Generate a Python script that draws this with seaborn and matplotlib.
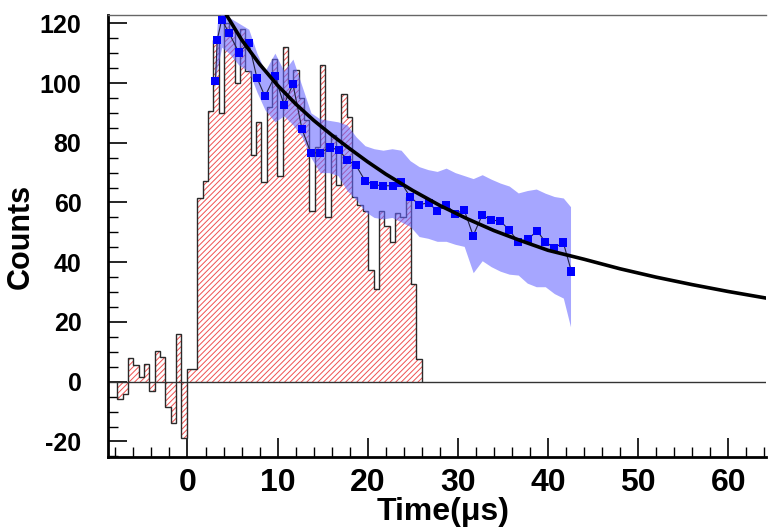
import numpy as np
import pandas as pd
import matplotlib
matplotlib.use("Agg")
import matplotlib.pyplot as plt
import seaborn as sns
from matplotlib.ticker import MultipleLocator

# ---------------- data ----------------
hist_start = -7.8
hist_width = 0.5925
hist_counts = [-5.8, -4.0, 7.8, 5.7, 1.6, 5.9, -3.0, 10.4, 8.3, -8.4,
               -13.7, 15.9, -18.8, 4.2, 4.2, 61.4, 67.2, 90.5, 114.5, 90.1,
               120, 118, 100, 118, 104, 76, 87, 67, 92, 108,
               69, 112, 100, 104.4, 94.9, 87.7, 57, 78.7, 106.1, 55.3,
               82.6, 65.9, 96.3, 88.5, 62, 59, 57, 37.4, 31, 57,
               52, 46.9, 56.4, 55, 62, 32.7, 7.5]

pt_x = [3.1, 3.3, 3.8, 4.6, 5.7, 6.8, 7.7, 8.6, 9.7, 10.7, 11.7, 12.7,
        13.7, 14.7, 15.8, 16.8, 17.7, 18.7, 19.7, 20.7, 21.7, 22.8, 23.7,
        24.7, 25.7, 26.8, 27.7, 28.7, 29.7, 30.7, 31.7, 32.7, 33.7, 34.7,
        35.7, 36.7, 37.8, 38.8, 39.7, 40.7, 41.7, 42.6]
pt_y = [100.7, 114.5, 121.2, 116.8, 110.2, 113.4, 101.8, 95.5, 102.4, 92.7,
        99.6, 84.6, 76.5, 76.7, 78.4, 77.6, 74.3, 72.4, 67.3, 65.9, 65.6,
        65.6, 66.7, 61.9, 59.3, 59.9, 57.0, 59.3, 56.2, 57.5, 48.9, 55.8,
        54.1, 53.8, 50.8, 46.8, 47.8, 50.5, 46.8, 44.8, 46.6, 36.9]

band_x = [3.0, 3.3, 3.8, 4.6, 5.7, 6.8, 7.7, 8.6, 9.7, 10.7, 11.7, 12.7,
          13.7, 14.7, 15.7, 16.7, 17.7, 18.7, 19.7, 20.7, 21.7, 22.7, 23.7,
          24.7, 25.7, 26.7, 27.7, 28.7, 29.7, 30.7, 31.7, 32.7, 33.7, 34.7,
          35.7, 36.7, 37.7, 38.7, 39.7, 40.7, 41.7, 42.5]
band_lo = [98, 105, 112, 110, 106, 104, 97, 91, 87, 89, 86, 82,
           75, 70, 70, 69, 64, 61, 57, 55, 54.5, 55, 53.5,
           52, 48.6, 48, 47, 47, 46, 45.3, 36.5, 40.5, 38.5, 37,
           36, 35.7, 33, 31.8, 31.8, 29.5, 28, 18.4]
band_hi = [102, 120, 124, 122, 120, 118, 110, 104, 110, 104, 108, 99,
           90, 88, 87.5, 87, 86, 82, 79, 78, 77.5, 78, 77.5,
           74, 72, 71, 70.4, 71.5, 70, 69, 68, 69.3, 67.8, 66.5,
           65.5, 63.2, 64, 64.5, 63.1, 62, 61.5, 58.6]

fit_x = [4.3, 6, 8, 10, 12, 14, 16, 18, 20, 22, 25, 28, 31, 34, 37, 40,
         44, 48, 52, 56, 60, 64.2]
fit_y = [122.9, 114.5, 106.3, 99.2, 93.0, 87.5, 82.6, 78.0, 73.6, 69.5,
         64.0, 59.0, 54.6, 50.6, 47.2, 44.0, 41.0, 37.8, 35.0, 32.5, 30.2, 28.0]

x_ticks = [0, 10, 20, 30, 40, 50, 60]
y_ticks = [-20, 0, 20, 40, 60, 80, 100, 120]

# ---------------- style ----------------
sns.set_theme(style="white")
plt.rcParams['font.family'] = ['Liberation Sans', 'DejaVu Sans']
plt.rcParams['font.weight'] = 'bold'
plt.rcParams['axes.unicode_minus'] = False
plt.rcParams['text.color'] = 'black'
plt.rcParams['axes.labelcolor'] = 'black'
plt.rcParams['xtick.color'] = 'black'
plt.rcParams['ytick.color'] = 'black'
plt.rcParams['hatch.linewidth'] = 0.7
plt.rcParams['hatch.color'] = '#f05050'

fig = plt.figure(figsize=(7.68, 5.32), dpi=100)
ax = fig.add_axes([0.1404, 0.141, 0.9975 - 0.1404, 0.972 - 0.141])

edges = hist_start + hist_width * np.arange(len(hist_counts) + 1)

# hatched fill of the histogram
ax.stairs(hist_counts, edges, baseline=0, fill=True, facecolor="none",
          edgecolor="#f05050", hatch="//////", linewidth=0, zorder=1)
# outline of the histogram
ax.stairs(hist_counts, edges, baseline=0, fill=False, color="#2a2a2a",
          linewidth=1.0, zorder=2)

# zero line
ax.axhline(0, color="#333333", linewidth=1.0, zorder=2)

# error band
ax.fill_between(band_x, band_lo, band_hi, color=(0.40, 0.40, 1.0),
                alpha=0.58, linewidth=0, zorder=3)

pdf = pd.DataFrame({"t": pt_x, "c": pt_y})
sns.lineplot(data=pdf, x="t", y="c", sort=False, color="#222244",
             linewidth=0.8, ax=ax, zorder=4)
sns.scatterplot(data=pdf, x="t", y="c", marker="s", s=34, color="#0000ff",
                edgecolor="none", ax=ax, zorder=5)

fdf = pd.DataFrame({"t": fit_x, "c": fit_y})
sns.lineplot(data=fdf, x="t", y="c", sort=False, color="black",
             linewidth=2.6, ax=ax, zorder=6)

# axes
ax.set_xlim(-8.84, 64.2)
ax.set_ylim(-25.2, 122.8)
ax.set_xticks(x_ticks)
ax.set_yticks(y_ticks)
ax.xaxis.set_minor_locator(MultipleLocator(2))
ax.yaxis.set_minor_locator(MultipleLocator(5))
ax.tick_params(which="both", bottom=True, left=True, top=False, right=False)
ax.tick_params(which="major", direction="in", length=14, width=1.2,
               color="black")
ax.tick_params(which="minor", direction="in", length=7, width=1.0,
               color="black")
ax.tick_params(axis="y", which="major", labelsize=18, pad=19)
ax.tick_params(axis="x", which="major", labelsize=23, pad=8)
for lab in ax.get_xticklabels() + ax.get_yticklabels():
    lab.set_fontweight("bold")

ax.set_xlabel("Time(μs)", fontsize=23, fontweight="bold")
ax.set_ylabel("Counts", fontsize=22, fontweight="bold")
ax.xaxis.set_label_coords(0.509, -0.124)
ax.yaxis.set_label_coords(-0.132, 0.5)
ax.xaxis.label.set_va("center")
ax.yaxis.label.set_va("center")

for s in ["left", "bottom"]:
    ax.spines[s].set_color("black")
    ax.spines[s].set_linewidth(2.0)
ax.spines["top"].set_color("#666666")
ax.spines["top"].set_linewidth(1.0)
ax.spines["right"].set_visible(False)
ax.grid(False)

fig.savefig("out.png", dpi=100)
